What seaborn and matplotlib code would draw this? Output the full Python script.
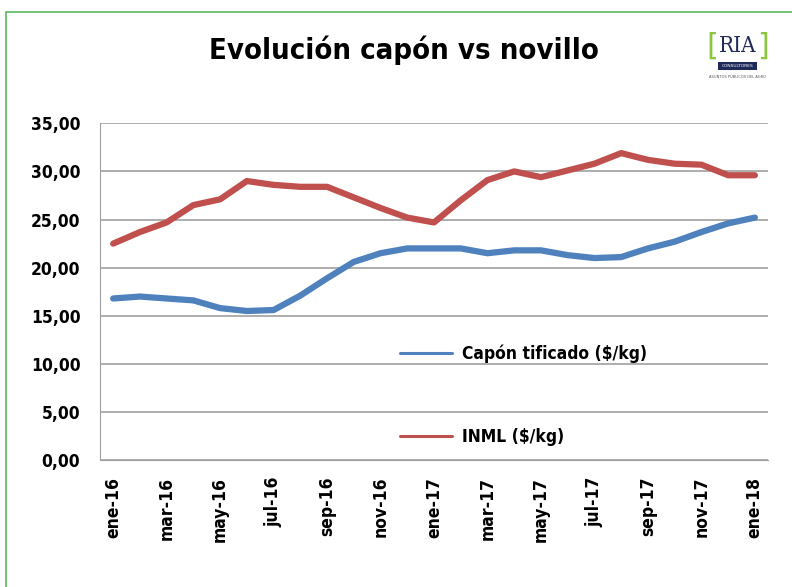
import pandas as pd
import matplotlib.pyplot as plt
import seaborn as sns
from matplotlib.patches import Rectangle

# months, ene-16 .. ene-18
meses = ['ene-16', 'feb-16', 'mar-16', 'abr-16', 'may-16', 'jun-16', 'jul-16',
         'ago-16', 'sep-16', 'oct-16', 'nov-16', 'dic-16', 'ene-17', 'feb-17',
         'mar-17', 'abr-17', 'may-17', 'jun-17', 'jul-17', 'ago-17', 'sep-17',
         'oct-17', 'nov-17', 'dic-17', 'ene-18']
capon = [16.8, 17.0, 16.8, 16.6, 15.8, 15.5, 15.6, 17.1, 18.9, 20.6, 21.5, 22.0,
         22.0, 22.0, 21.5, 21.8, 21.8, 21.3, 21.0, 21.1, 22.0, 22.7, 23.7, 24.6, 25.2]
inml = [22.5, 23.7, 24.7, 26.5, 27.1, 29.0, 28.6, 28.4, 28.4, 27.3, 26.2, 25.2,
        24.7, 27.0, 29.1, 30.0, 29.4, 30.1, 30.8, 31.9, 31.2, 30.8, 30.7, 29.6, 29.6]
series = ['Capón tificado ($/kg)', 'INML ($/kg)']
yticks = [0, 5, 10, 15, 20, 25, 30, 35]

df = pd.DataFrame({'mes': list(range(len(meses))) * 2,
                   'valor': capon + inml,
                   'serie': [series[0]] * len(meses) + [series[1]] * len(meses)})

sns.set_style('white')
bold = ['DejaVu Sans']
st = 'condensed'

fig = plt.figure(figsize=(7.92, 5.87), dpi=100)
ax = fig.add_axes([0.126, 0.216, 0.844, 0.574])

sns.lineplot(data=df, x='mes', y='valor', hue='serie',
             palette=['#4F81BD', '#C0504D'], linewidth=4.5, ax=ax)

ax.set_xlim(-0.5, len(meses) - 0.5)
ax.set_ylim(0, 35)
ax.set_yticks(yticks)
ax.set_yticklabels([f'{v:.2f}'.replace('.', ',') for v in yticks], color='black',
                   fontsize=12.5, fontweight='bold', family=bold, fontstretch=st)
ax.set_xticks(range(0, len(meses), 2))
ax.set_xticklabels(meses[::2], rotation=90, fontsize=12.5, fontweight='bold',
                   family=bold, fontstretch=st, color='black')
ax.tick_params(axis='x', pad=12, length=0)
ax.tick_params(axis='y', pad=14, length=0)
ax.yaxis.grid(True, color='#a0a0a0', linewidth=1.2)
ax.set_axisbelow(True)
for s in ['top', 'right']:
    ax.spines[s].set_visible(False)
ax.spines['left'].set_color('#a0a0a0')
ax.spines['bottom'].set_color('#a0a0a0')
ax.set_xlabel('')
ax.set_ylabel('')

leg = ax.legend(loc='upper left', bbox_to_anchor=(0.425, 0.39), frameon=False,
                labelspacing=3.75, handlelength=3.0, handletextpad=0.6,
                prop={'family': bold, 'weight': 'bold', 'size': 12.5, 'stretch': st})
for h in leg.get_lines():
    h.set_linewidth(2.2)
for t in leg.get_texts():
    t.set_color('black')

fig.text(0.51, 0.915, 'Evolución capón vs novillo', ha='center', va='center',
         fontsize=21, fontweight='heavy', family=bold, fontstretch=st, color='black')

# logo
fig.text(0.931, 0.922, 'RIA', ha='center', va='center', fontsize=16,
         family='DejaVu Serif', fontstretch=st, color='#1f2a5a')
fig.text(0.899, 0.922, '[', ha='center', va='center', fontsize=22, color='#8cc63f')
fig.text(0.963, 0.922, ']', ha='center', va='center', fontsize=22, color='#8cc63f')
fig.patches.append(Rectangle((0.906, 0.880), 0.05, 0.014, transform=fig.transFigure,
                             facecolor='#1f2a5a', edgecolor='none'))
fig.text(0.931, 0.887, 'CONSULTORES', ha='center', va='center', fontsize=3.2, color='white')
fig.text(0.931, 0.868, 'ASUNTOS PÚBLICOS DEL AGRO', ha='center', va='center',
         fontsize=2.6, color='#555555')

# green frame
fig.patches.append(Rectangle((0.007, -0.01), 1.0, 0.99, transform=fig.transFigure,
                             fill=False, edgecolor='#5cb85c', linewidth=1.2))

fig.savefig('out.png', dpi=100)
